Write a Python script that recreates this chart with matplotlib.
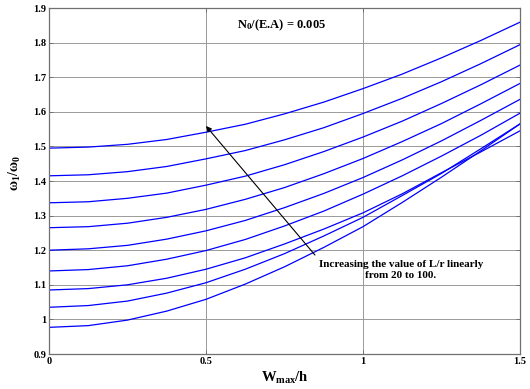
import matplotlib
matplotlib.use("Agg")
import matplotlib.pyplot as plt

# Data
w_ratio = [0, 0.125, 0.25, 0.375, 0.5, 0.625, 0.75, 0.875, 1.0, 1.125, 1.25, 1.375, 1.5]
curve_1 = [1.495, 1.498, 1.506, 1.520, 1.541, 1.564, 1.594, 1.628, 1.667, 1.709, 1.756, 1.806, 1.859]
curve_2 = [1.415, 1.418, 1.427, 1.442, 1.464, 1.488, 1.519, 1.554, 1.595, 1.639, 1.687, 1.739, 1.794]
curve_3 = [1.337, 1.340, 1.350, 1.365, 1.388, 1.414, 1.447, 1.485, 1.527, 1.573, 1.624, 1.678, 1.735]
curve_4 = [1.265, 1.268, 1.278, 1.295, 1.318, 1.347, 1.381, 1.421, 1.465, 1.514, 1.566, 1.623, 1.682]
curve_5 = [1.200, 1.204, 1.214, 1.232, 1.256, 1.286, 1.323, 1.364, 1.410, 1.461, 1.516, 1.575, 1.636]
curve_6 = [1.140, 1.144, 1.155, 1.174, 1.199, 1.231, 1.270, 1.313, 1.362, 1.415, 1.472, 1.532, 1.596]
curve_7 = [1.085, 1.089, 1.100, 1.119, 1.145, 1.178, 1.218, 1.261, 1.308, 1.363, 1.424, 1.484, 1.545]
curve_8 = [1.035, 1.040, 1.053, 1.076, 1.106, 1.145, 1.190, 1.241, 1.295, 1.358, 1.422, 1.493, 1.565]
curve_9 = [0.977, 0.982, 0.998, 1.024, 1.058, 1.102, 1.152, 1.208, 1.268, 1.338, 1.411, 1.487, 1.565]
curves = [curve_1, curve_2, curve_3, curve_4, curve_5, curve_6, curve_7, curve_8, curve_9]

x_ticks = [0, 0.5, 1, 1.5]
x_tick_labels = ["0", "0.5", "1", "1.5"]
y_ticks = [0.9, 1.0, 1.1, 1.2, 1.3, 1.4, 1.5, 1.6, 1.7, 1.8, 1.9]
y_tick_labels = ["0.9", "1", "1.1", "1.2", "1.3", "1.4", "1.5", "1.6", "1.7", "1.8", "1.9"]

title_text = "N$_0$/(E.A) = 0.005"
note_text = "Increasing the value of L/r linearly\nfrom 20 to 100."

plt.rcParams['font.family'] = ['Liberation Serif', 'DejaVu Serif']
plt.rcParams['mathtext.fontset'] = 'custom'
plt.rcParams['mathtext.rm'] = 'Liberation Serif:bold'
plt.rcParams['mathtext.it'] = 'Liberation Serif:bold'
plt.rcParams['mathtext.bf'] = 'Liberation Serif:bold'

fig = plt.figure(figsize=(5.30, 3.89), dpi=100)
ax = fig.add_axes([49/530, 1 - 354/389, (520-49)/530, (354-8)/389])

for c in curves:
    ax.plot(w_ratio, c, color='#0000ff', lw=0.9)

ax.set_xlim(0, 1.5)
ax.set_ylim(0.9, 1.9)
ax.set_xticks(x_ticks)
ax.set_xticklabels(x_tick_labels)
ax.set_yticks(y_ticks)
ax.set_yticklabels(y_tick_labels)
ax.grid(True, color='#9a9a9a', lw=0.7)
ax.set_axisbelow(True)
for s in ax.spines.values():
    s.set_color('#707070')
    s.set_linewidth(0.9)
ax.tick_params(direction='in', length=3, width=0.7, color='#707070',
               labelsize=7.5, pad=2, right=True, top=True)
for lab in ax.get_xticklabels() + ax.get_yticklabels():
    lab.set_fontweight('bold')

ax.set_xlabel("W$_{max}$/h", fontsize=10.5, fontweight='bold', labelpad=3)
ax.set_ylabel(r"$\omega_1/\omega_0$", fontsize=10)
ax.yaxis.set_label_coords(-0.055, 0.523)

ax.text(0.742, 1.851, title_text, fontsize=9, fontweight='bold',
        ha='center', va='center')
ax.text(1.121, 1.144, note_text, fontsize=8, fontweight='bold',
        ha='center', va='center', multialignment='center', linespacing=1.3)
ax.annotate("", xy=(0.5, 1.559), xytext=(0.847, 1.186),
            arrowprops=dict(arrowstyle='-|>', color='black', lw=0.8,
                            mutation_scale=8, shrinkA=0, shrinkB=0))

fig.savefig("out.png", dpi=100)
